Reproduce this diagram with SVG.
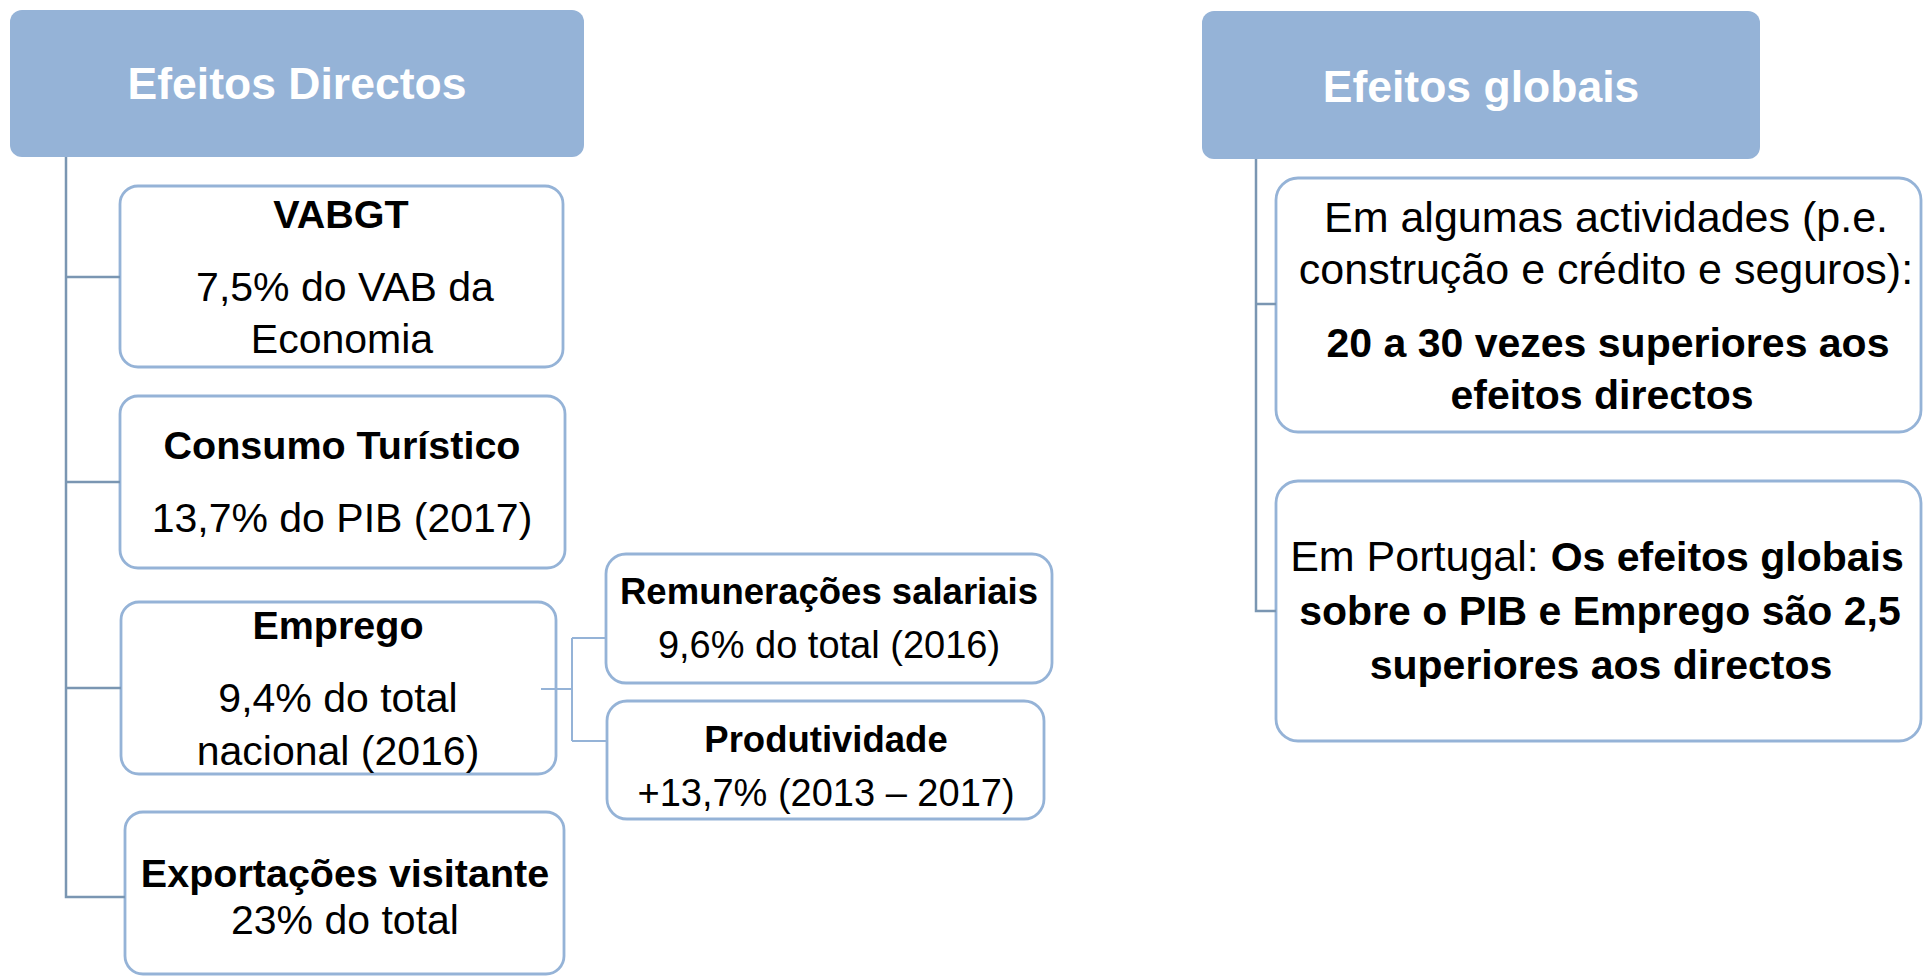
<svg xmlns="http://www.w3.org/2000/svg" width="1923" height="977" viewBox="0 0 1923 977">
<style>
.hdr{fill:#95B3D7;stroke:none}
.box{fill:#FFFFFF;stroke:#95B3D7;stroke-width:2.8}
.trunk{fill:none;stroke:#7A96B2;stroke-width:2.5}
.sub{fill:none;stroke:#95B3D7;stroke-width:2}
text{font-family:"Liberation Sans",Arial,sans-serif;text-anchor:middle;fill:#000}
.ht{font-weight:bold;font-size:44.5px;fill:#FFFFFF}
.b{font-weight:bold;font-size:39.5px}
.r{font-size:41px}
.sb{font-weight:bold;font-size:36.5px}
.sr{font-size:38px}
.rr{font-size:43px}
.rb{font-weight:bold;font-size:41px}
</style>
<rect width="1923" height="977" fill="#FFFFFF"/>
<g id="nodes">
<g id="efeitos-directos">
<rect class="hdr" x="10" y="10" width="574" height="147" rx="12"/>
<text class="ht" x="297" y="99">Efeitos Directos</text>
</g>
<g id="vabgt">
<rect class="box" x="120" y="186" width="443" height="181" rx="18"/>
<text class="b" x="341" y="228">VABGT</text>
<text class="r" x="345" y="301">7,5% do VAB da</text>
<text class="r" x="342" y="353">Economia</text>
</g>
<g id="consumo">
<rect class="box" x="120" y="396" width="445" height="172" rx="18"/>
<text class="b" x="342" y="459">Consumo Turístico</text>
<text class="r" x="342" y="532">13,7% do PIB (2017)</text>
</g>
<g id="emprego">
<rect class="box" x="121" y="602" width="435" height="172" rx="18"/>
<text class="b" x="338" y="639">Emprego</text>
<text class="r" x="338" y="712">9,4% do total</text>
<text class="r" x="338" y="765">nacional (2016)</text>
</g>
<g id="exportacoes">
<rect class="box" x="125" y="812" width="439" height="162" rx="18"/>
<text class="b" x="345" y="887">Exportações visitante</text>
<text class="r" x="345" y="934">23% do total</text>
</g>
<g id="remuneracoes">
<rect class="box" x="606" y="554" width="446" height="129" rx="20"/>
<text class="sb" x="829" y="604">Remunerações salariais</text>
<text class="sr" x="829" y="658">9,6% do total (2016)</text>
</g>
<g id="produtividade">
<rect class="box" x="607" y="701" width="437" height="118" rx="20"/>
<text class="sb" x="826" y="752">Produtividade</text>
<text class="sr" x="826" y="806">+13,7% (2013 – 2017)</text>
</g>
<g id="efeitos-globais">
<rect class="hdr" x="1202" y="11" width="558" height="148" rx="12"/>
<text class="ht" x="1481" y="102">Efeitos globais</text>
</g>
<g id="actividades">
<rect class="box" x="1276" y="178" width="645" height="254" rx="22"/>
<text class="rr" x="1606" y="232">Em algumas actividades (p.e.</text>
<text class="rr" x="1606" y="284">construção e crédito e seguros):</text>
<text class="rb" x="1608" y="357">20 a 30 vezes superiores aos</text>
<text class="rb" x="1602" y="409">efeitos directos</text>
</g>
<g id="portugal">
<rect class="box" x="1276" y="481" width="645" height="260" rx="22"/>
<text x="1597" y="571"><tspan class="rr">Em Portugal: </tspan><tspan class="rb">Os efeitos globais</tspan></text>
<text class="rb" x="1600" y="625">sobre o PIB e Emprego são 2,5</text>
<text class="rb" x="1601" y="679">superiores aos directos</text>
</g>
</g>
<g id="connectors">
<path class="trunk" d="M66 157 V897 H125 M66 277 H120 M66 482 H120 M66 688 H121"/>
<path class="sub" d="M541 689 H572 M572 638 V741 M572 638 H606 M572 741 H607"/>
<path class="trunk" d="M1256 159 V611 H1276 M1256 304 H1276"/>
</g>
</svg>
